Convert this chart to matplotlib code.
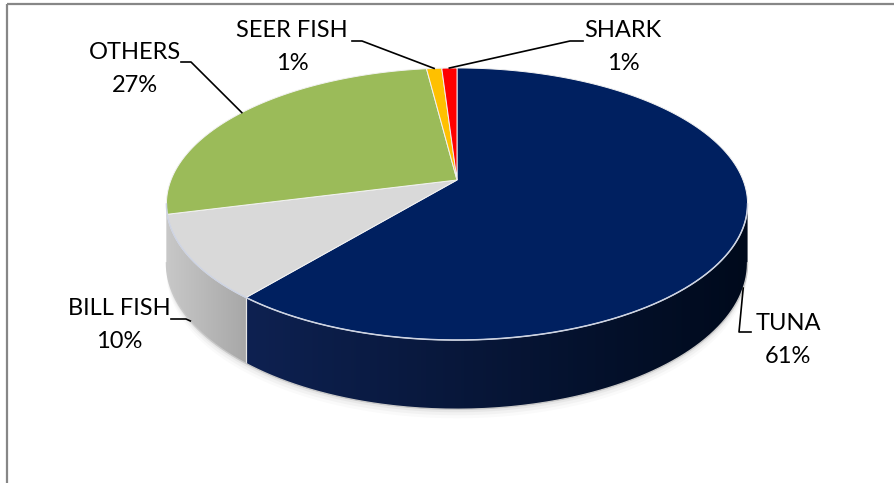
import numpy as np
import matplotlib
matplotlib.use('Agg')
import matplotlib.pyplot as plt
from matplotlib.patches import Polygon
from matplotlib.colors import LinearSegmentedColormap

# Data
labels = ['TUNA', 'BILL FISH', 'OTHERS', 'SEER FISH', 'SHARK']
shares = [61, 10, 27, 1, 1]
top_colors = ['#002060', '#d9d9d9', '#9bbb59', '#ffc000', '#ff0000']
side_colors = [('#0e2151', '#000a1c'), ('#c8c8c8', '#a8a8a8'),
               ('#7f9c45', '#7f9c45'), ('#d9a300', '#d9a300'),
               ('#cc0000', '#cc0000')]

# pie geometry in pixel space (fake perspective)
CX, CY = 457, 180
A, B = 286, 131.8
K = 0.1765
D = 57


def proj(phi, drop=0.0):
    u, v = np.cos(phi), np.sin(phi)
    s = 1.0 / (1.0 + K * v)
    return CX + A * u * s, CY - B * v * s + drop * s


fig = plt.figure(figsize=(8.94, 4.83), dpi=100)
ax = fig.add_axes([0, 0, 1, 1])
ax.axis('off')

plt.rcParams['font.family'] = ['Lato', 'DejaVu Sans']

# slice angles, clockwise from 12 o'clock
total = float(sum(shares))
starts, ends = [], []
cum = 0.0
for v in shares:
    starts.append(np.radians(90 - cum / total * 360))
    cum += v
    ends.append(np.radians(90 - cum / total * 360))

lo = -np.pi + np.arcsin(K)
hi = -np.arcsin(K)

# soft shadow under the pie
ph = np.linspace(lo, hi, 200)
for off, al in [(9, 0.04), (6, 0.06), (3, 0.09)]:
    bx, by = proj(ph, D)
    tx, ty = proj(ph[::-1], 0)
    ax.fill(np.r_[bx, tx], np.r_[by + off, ty], color='#808080', alpha=al,
            lw=0, zorder=1)

# side walls
for i in range(len(shares)):
    a0 = max(ends[i], lo)
    a1 = min(starts[i], hi)
    if a1 - a0 < np.radians(6):
        continue
    if a0 - lo < np.radians(6):
        a0 = lo
    ph = np.linspace(a0, a1, 150)
    tx, ty = proj(ph, 0)
    bx, by = proj(ph[::-1], D)
    xs, ys = np.r_[tx, bx], np.r_[ty, by]
    poly = Polygon(np.c_[xs, ys], closed=True, facecolor='none',
                   edgecolor='none')
    ax.add_patch(poly)
    cmap = LinearSegmentedColormap.from_list('s%d' % i, side_colors[i])
    grad = np.linspace(0, 1, 256).reshape(1, -1)
    im = ax.imshow(grad, cmap=cmap, aspect='auto',
                   extent=(xs.min(), xs.max(), ys.max(), ys.min()),
                   zorder=2, interpolation='bicubic')
    im.set_clip_path(poly)
    # light edge at slice boundaries on the wall
    for a in (a0, a1):
        if lo + 1e-6 < a < hi - 1e-6:
            x0, y0 = proj(a, 0)
            x1, y1 = proj(a, D)
            ax.plot([x0, x1], [y0, y1], color='#e6e6e6', lw=0.8, zorder=3)

# bottom rim highlight
ph = np.linspace(lo, hi, 300)
bx, by = proj(ph, D)
ax.plot(bx, by, color='#c8c8c8', lw=1.0, zorder=3)

# top faces
for i in range(len(shares)):
    ph = np.linspace(starts[i], ends[i], 200)
    tx, ty = proj(ph, 0)
    ax.fill(np.r_[CX, tx], np.r_[CY, ty], facecolor=top_colors[i],
            edgecolor='#f2f2f2', lw=0.7, zorder=4)

# top rim highlight at the front
tx, ty = proj(np.linspace(lo, hi, 300), 0)
ax.plot(tx, ty, color='#cdd3e2', lw=1.1, zorder=5)

# data labels with leader lines
label_pos = {
    'TUNA': (788, 340),
    'BILL FISH': (119, 325),
    'OTHERS': (135, 69),
    'SEER FISH': (292, 47),
    'SHARK': (623, 47),
}
elbows = {
    'TUNA': [(751, 332), (739, 332)],
    'BILL FISH': [(171, 319), (186, 319)],
    'OTHERS': [(181, 62), (191, 62)],
    'SEER FISH': [(352, 41), (362, 41)],
    'SHARK': [(583, 41), (570, 41)],
}
for i, name in enumerate(labels):
    mid = 0.5 * (starts[i] + ends[i])
    front = lo < mid < hi
    axp, ayp = proj(mid, D if front else 0)
    pts = elbows[name] + [(axp, ayp)]
    ax.plot([p[0] for p in pts], [p[1] for p in pts], color='black',
            lw=1.2, zorder=6)
    x, y = label_pos[name]
    ax.text(x, y, '%s\n%d%%' % (name, round(shares[i] / total * 100)),
            ha='center', va='center', fontsize=17, linespacing=1.7,
            color='black', zorder=7)

# chart frame (top and left edges visible)
ax.plot([7, 894], [4, 4], color='#878787', lw=1.6, zorder=8,
        solid_capstyle='butt')
ax.plot([7, 7], [4, 483], color='#878787', lw=1.6, zorder=8,
        solid_capstyle='butt')

ax.set_xlim(0, 894)
ax.set_ylim(483, 0)

fig.savefig('out.png', dpi=100)
